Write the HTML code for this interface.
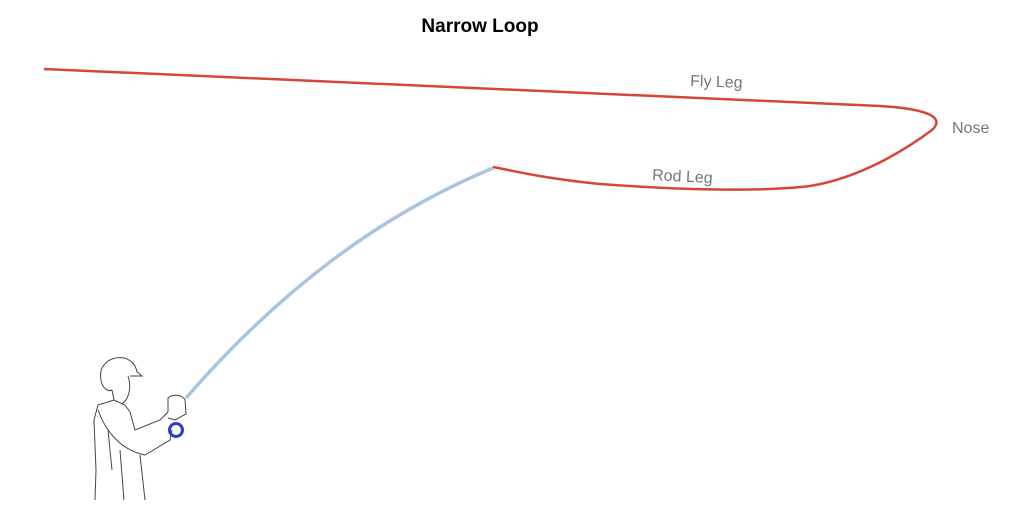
<!DOCTYPE html>
<html><head><style>
body{margin:0;background:#fff;width:1024px;height:512px;overflow:hidden;font-family:"Liberation Sans",sans-serif}
</style></head><body>
<svg width="1024" height="512" viewBox="0 0 1024 512" xmlns="http://www.w3.org/2000/svg">
<text x="480" y="32" text-anchor="middle" font-family="Liberation Sans, sans-serif" font-weight="bold" font-size="19" fill="#000">Narrow Loop</text>
<path d="M44,69 L880,106 C930,109 945,118 932,130 C905,150 860,178 810,186 C760,192 680,190 600,184 C540,178 510,170 493,167" fill="none" stroke="#d64535" stroke-width="2.5"/>
<path d="M493,168 C380,215 280,290 186,398" fill="none" stroke="#a9c4de" stroke-width="3.5"/>
<text x="690" y="86" font-size="16" fill="#777" transform="rotate(2 690 86)">Fly Leg</text>
<text x="652" y="180" font-size="16" fill="#777" transform="rotate(3 652 180)">Rod Leg</text>
<text x="952" y="133" font-size="16" fill="#777">Nose</text>
<g fill="none" stroke="#444" stroke-width="1">
<path d="M101,380 C98,365 110,356 124,358 C132,360 136,366 137,372 L142,376 L130,376"/>
<path d="M101,380 C102,388 108,392 112,390"/>
<path d="M128,376 C131,385 130,393 126,400 L122,404"/>
<path d="M112,390 L114,400 L98,405 L94,420 L96,470 L95,500"/>
<path d="M114,400 L125,405 L130,412 L135,430 L160,420 L168,412"/>
<path d="M98,410 C105,430 120,450 145,455 L170,440 L172,430"/>
<path d="M168,412 L168,398 C172,394 182,394 185,400 L186,414 L175,420 L168,418"/>
<path d="M120,450 L124,500 M140,455 L145,500 M108,430 L112,470"/>
</g>
<circle cx="176" cy="430" r="6.5" fill="none" stroke="#2a3fc4" stroke-width="3"/>
</svg>
</body></html>
